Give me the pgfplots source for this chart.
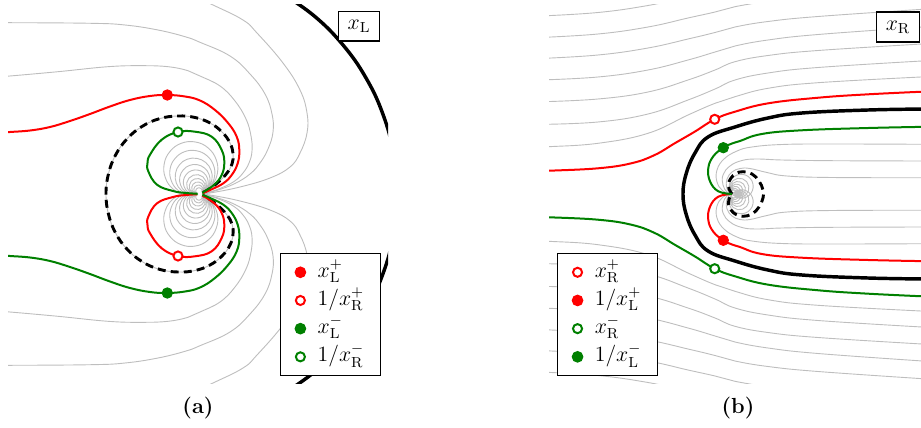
\documentclass[border=0pt]{standalone}
\usepackage{pgfplots}
\pgfplotsset{compat=1.18}
\usepackage{pgfplotstable}

\definecolor{contour}{RGB}{190,190,190}
\definecolor{pathred}{RGB}{255,0,0}
\definecolor{pathgreen}{RGB}{0,128,0}

\pgfplotsset{
  plane/.style={hide axis, x=0.55pt, y=0.55pt, enlargelimits=false,
    clip mode=individual, anchor=north west,
    legend cell align=left,
    legend style={draw=black, line width=0.6pt, fill=white, font=\large,
      row sep=0pt, column sep=4.5pt, inner xsep=7.5pt, inner ysep=2.5pt,
      nodes={inner sep=1.5pt, text height=9pt, text depth=3.5pt}}},
  contourline/.style={contour, line width=0.5pt, smooth, tension=0.7, forget plot},
  branch/.style={line width=1.1pt, smooth, tension=0.7, forget plot},
  boundary/.style={black, line width=1.9pt, smooth, tension=0.7, forget plot},
  unitcircle/.style={black, line width=1.6pt, dash pattern=on 4.4pt off 2.8pt, smooth, tension=0.7, forget plot},
  fullmark/.style={only marks, mark=*, mark size=2.9pt, color=#1},
  openmark/.style={only marks, mark=*, mark size=2.5pt, color=#1,
    mark options={fill=white, line width=1.1pt}},
}

% ================= left plane: x_L =================
% outer level curves, upper half (ym = mirror image)
\pgfplotstableread{
x y ym
-20 204 -204
13 189 -189
43 174 -174
57 161 -161
83 131 -131
100 104 -104
107 81 -81
107 61 -61
100 41 -41
90 27 -27
70 16 -16
40 7 -7
10 1 -1
0 0 0
}\levelAa
\pgfplotstableread{
x y ym
-198 171 -171
-190 171.3 -171.3
-109 170.7 -170.7
-75 169 -169
-42 164 -164
-15 157.3 -157.3
0 151.7 -151.7
30 138 -138
50 120 -120
65 100 -100
72 80 -80
73 62 -62
68 45 -45
60 31 -31
50 20 -20
35 10.5 -10.5
18 4 -4
6 1 -1
0 0 0
}\levelAb
\pgfplotstableread{
x y ym
-198 117.5 -117.5
-190 118 -118
-142 122.3 -122.3
-92 127.3 -127.3
-58.7 128.3 -128.3
-32 127.3 -127.3
-12 123.3 -123.3
0 118 -118
20 108 -108
35 93 -93
46 75 -75
51 58 -58
52 43 -43
49 31 -31
43 21 -21
34 12.5 -12.5
20 5.5 -5.5
6 1 -1
0 0 0
}\levelAc

% closed level curves, all through the branch point at the origin
\pgfplotstableread{
x y ym
0 0 0
11.4 8.0 -8.0
17.4 20.7 -20.7
16.1 34.6 -34.6
8.1 46.1 -46.1
-4.5 52.0 -52.0
-18.5 50.8 -50.8
-29.9 42.7 -42.7
-35.8 30.1 -30.1
-34.6 16.1 -16.1
-26.6 4.7 -4.7
-13.9 -1.2 1.2
0 0 0
9.5 6.7 -6.7
14.5 17.2 -17.2
13.5 28.8 -28.8
6.8 38.4 -38.4
-3.8 43.3 -43.3
-15.4 42.3 -42.3
-24.9 35.6 -35.6
-29.9 25.1 -25.1
-28.8 13.5 -13.5
-22.2 3.9 -3.9
-11.6 -1.0 1.0
0 0 0
7.8 5.5 -5.5
11.9 14.2 -14.2
11.1 23.7 -23.7
5.6 31.6 -31.6
-3.1 35.6 -35.6
-12.7 34.8 -34.8
-20.5 29.3 -29.3
-24.5 20.6 -20.6
-23.7 11.1 -11.1
-18.2 3.2 -3.2
-9.5 -0.8 0.8
0 0 0
6.4 4.5 -4.5
9.8 11.6 -11.6
9.1 19.5 -19.5
4.6 25.9 -25.9
-2.6 29.3 -29.3
-10.4 28.6 -28.6
-16.8 24.1 -24.1
-20.2 16.9 -16.9
-19.5 9.1 -9.1
-15.0 2.6 -2.6
-7.8 -0.7 0.7
0 0 0
5.3 3.7 -3.7
8.0 9.5 -9.5
7.4 15.9 -15.9
3.7 21.2 -21.2
-2.1 23.9 -23.9
-8.5 23.3 -23.3
-13.7 19.6 -19.6
-16.5 13.8 -13.8
-15.9 7.4 -7.4
-12.2 2.2 -2.2
-6.4 -0.6 0.6
0 0 0
4.2 3.0 -3.0
6.4 7.7 -7.7
6.0 12.8 -12.8
3.0 17.1 -17.1
-1.7 19.3 -19.3
-6.8 18.8 -18.8
-11.1 15.8 -15.8
-13.3 11.1 -11.1
-12.8 6.0 -6.0
-9.9 1.7 -1.7
-5.2 -0.5 0.5
0 0 0
3.4 2.4 -2.4
5.1 6.1 -6.1
4.8 10.3 -10.3
2.4 13.6 -13.6
-1.3 15.4 -15.4
-5.5 15.0 -15.0
-8.9 12.7 -12.7
-10.6 8.9 -8.9
-10.3 4.8 -4.8
-7.9 1.4 -1.4
-4.1 -0.4 0.4
0 0 0
2.6 1.8 -1.8
4.0 4.7 -4.7
3.7 7.9 -7.9
1.9 10.6 -10.6
-1.0 11.9 -11.9
-4.2 11.7 -11.7
-6.9 9.8 -9.8
-8.2 6.9 -6.9
-7.9 3.7 -3.7
-6.1 1.1 -1.1
-3.2 -0.3 0.3
0 0 0
2.0 1.4 -1.4
3.0 3.5 -3.5
2.8 5.9 -5.9
1.4 7.8 -7.8
-0.8 8.9 -8.9
-3.1 8.6 -8.6
-5.1 7.3 -7.3
-6.1 5.1 -5.1
-5.9 2.8 -2.8
-4.5 0.8 -0.8
-2.4 -0.2 0.2
0 0 0
1.4 1.0 -1.0
2.1 2.5 -2.5
1.9 4.1 -4.1
1.0 5.5 -5.5
-0.5 6.2 -6.2
-2.2 6.0 -6.0
-3.5 5.1 -5.1
-4.2 3.6 -3.6
-4.1 1.9 -1.9
-3.2 0.6 -0.6
-1.7 -0.1 0.1
0 0 0
}\loopsA

% x_L^+ (column y) and x_L^- (column ym)
\pgfplotstableread{
x y ym
-198 61.3 -61.3
-190 62 -62
-170 63.5 -63.5
-150 67 -67
-130 73 -73
-110 80 -80
-90 87.5 -87.5
-70 94 -94
-50 98 -98
-32.7 99 -99
-15 97.5 -97.5
0 93.5 -93.5
15 84 -84
28.3 70.7 -70.7
36.7 57.3 -57.3
39.3 44 -44
37.7 30.7 -30.7
31.7 19 -19
23.3 10.7 -10.7
11.7 4.7 -4.7
3 1 -1
0 0 0
-14 -1 1
-27 -3 3
-43 -9.3 9.3
-51.7 -22.7 22.7
-52.5 -31 31
-50 -39.3 39.3
-38.3 -54.3 54.3
-22 -62 62
-5 -62.3 62.3
11.7 -57.3 57.3
21.7 -44 44
24.3 -30.7 30.7
21.7 -19 19
15 -10 10
6.7 -4 4
0 0 0
}\branchA

% unit circle
\pgfplotstableread{
x y
3 1.5
10 5.5
19 12.5
27 21
32 30
33 40
30 51
22 62
10 71
-5 76.5
-22 78
-40.6 75.3
-58 67.5
-72.9 55.2
-84.4 39
-91.5 20.2
-94 0
-91.5 -20.2
-84.4 -39
-72.9 -55.2
-58 -67.5
-40.6 -75.3
-22 -78
-5 -76.5
10 -71
22 -62
30 -51
33 -40
32 -30
27 -21
19 -12.5
10 -5.5
3 -1.5
}\circleA

% boundary of the x_L region
\pgfplotstableread{
x y
80.7 201.5
113.9 178.3
142.5 149.6
165.8 116.4
183.0 79.6
193.5 40.4
197.0 0
193.5 -40.4
183.0 -79.6
165.8 -116.4
142.5 -149.6
113.9 -178.3
80.7 -201.5
}\edgeA

% ================= right plane: x_R =================
\pgfplotstableread{
x y ym
-192 47 -47
-183 47.3 -47.3
-134 50.7 -50.7
-84 60.7 -60.7
-44 79 -79
-17 90.7 -90.7
3 97.3 -97.3
36 105.7 -105.7
86 111.3 -111.3
195 117.3 -117.3
}\levelBa
\pgfplotstableread{
x y ym
-192 69.6 -69.6
-134 72 -72
-84 80 -80
-44 94 -94
-17 105 -105
3 114 -114
36 121 -121
86 126.5 -126.5
195 133.3 -133.3
}\levelBb
\pgfplotstableread{
x y ym
-192 92.2 -92.2
-134 95 -95
-84 102 -102
-44 114 -114
-17 124 -124
3 132.3 -132.3
36 138.5 -138.5
86 143.5 -143.5
195 150.3 -150.3
}\levelBc
\pgfplotstableread{
x y ym
-192 114 -114
-134 117 -117
-84 124 -124
-44 134 -134
-17 142 -142
3 148 -148
36 154 -154
86 159.5 -159.5
195 167.3 -167.3
}\levelBd
\pgfplotstableread{
x y ym
-192 135.5 -135.5
-134 139 -139
-84 146 -146
-44 155 -155
-17 161.5 -161.5
3 167 -167
36 172.5 -172.5
86 177.5 -177.5
195 185 -185
}\levelBe
\pgfplotstableread{
x y ym
-192 156.5 -156.5
-134 160 -160
-84 167 -167
-44 176 -176
-17 182 -182
3 187.3 -187.3
36 193 -193
}\levelBf
\pgfplotstableread{
x y ym
-192 178 -178
-134 181.5 -181.5
-84 188.5 -188.5
-44 197 -197
}\levelBg
% level curves inside the boundary, ending at the branch point
\pgfplotstableread{
x y ym
195 49.7 -49.7
100 50 -50
50 49.5 -49.5
20 47 -47
5 43 -43
-8 35 -35
-15 24 -24
-15 12 -12
-9 3 -3
0 0 0
}\innerBa
\pgfplotstableread{
x y ym
195 33 -33
100 33.3 -33.3
50 34 -34
25 35 -35
10 33.5 -33.5
-2 28 -28
-9 19 -19
-9 9 -9
-5 2 -2
0 0 0
}\innerBb
\pgfplotstableread{
x y ym
195 16.3 -16.3
100 16.5 -16.5
55 18 -18
35 21.5 -21.5
18 25.5 -25.5
8 25.5 -25.5
0 22 -22
-5 15 -15
-5.5 7 -7
-3 2 -2
0 0 0
}\innerBc

\pgfplotstableread{
x y ym
0 0 0
5.1 -3.6 3.6
11.3 -4.1 4.1
16.9 -1.5 1.5
20.5 3.6 -3.6
21 9.8 -9.8
18.4 15.4 -15.4
13.3 19 -19
7.1 19.5 -19.5
1.5 16.9 -16.9
-2.1 11.8 -11.8
-2.6 5.6 -5.6
0 0 0
4.1 -2.9 2.9
9 -3.3 3.3
13.5 -1.2 1.2
16.4 2.9 -2.9
16.8 7.8 -7.8
14.7 12.3 -12.3
10.6 15.2 -15.2
5.7 15.6 -15.6
1.2 13.5 -13.5
-1.7 9.5 -9.5
-2.1 4.5 -4.5
0 0 0
3.2 -2.3 2.3
7.1 -2.6 2.6
10.7 -0.9 0.9
13 2.3 -2.3
13.3 6.2 -6.2
11.6 9.8 -9.8
8.4 12 -12
4.5 12.4 -12.4
0.9 10.7 -10.7
-1.3 7.5 -7.5
-1.7 3.6 -3.6
0 0 0
2.5 -1.8 1.8
5.6 -2.1 2.1
8.5 -0.7 0.7
10.2 1.8 -1.8
10.5 4.9 -4.9
9.2 7.7 -7.7
6.6 9.5 -9.5
3.6 9.8 -9.8
0.7 8.5 -8.5
-1 5.9 -5.9
-1.3 2.8 -2.8
0 0 0
2 -1.4 1.4
4.3 -1.6 1.6
6.5 -0.6 0.6
7.8 1.4 -1.4
8.1 3.8 -3.8
7 5.9 -5.9
5.1 7.3 -7.3
2.7 7.5 -7.5
0.6 6.5 -6.5
-0.8 4.5 -4.5
-1 2.2 -2.2
0 0 0
1.4 -1 1
3.2 -1.2 1.2
4.8 -0.4 0.4
5.8 1 -1
6 2.8 -2.8
5.2 4.4 -4.4
3.8 5.4 -5.4
2 5.5 -5.5
0.4 4.8 -4.8
-0.6 3.3 -3.3
-0.7 1.6 -1.6
0 0 0
1 -0.7 0.7
2.3 -0.8 0.8
3.4 -0.3 0.3
4.1 0.7 -0.7
4.2 2 -2
3.7 3.1 -3.1
2.7 3.8 -3.8
1.4 3.9 -3.9
0.3 3.4 -3.4
-0.4 2.4 -2.4
-0.5 1.1 -1.1
0 0 0
}\loopsB

% x_R^+ (column y) and x_R^- (column ym): outer branch
\pgfplotstableread{
x y ym
-192 23 -23
-182 23.3 -23.3
-134 25.7 -25.7
-100.7 30.7 -30.7
-77.3 39 -39
-57.3 50.7 -50.7
-37.3 62.3 -62.3
-17.3 74.7 -74.7
3 82.3 -82.3
36.3 90.7 -90.7
86.3 96.3 -96.3
136.3 99.7 -99.7
195 102.5 -102.5
}\branchBa
% branch leaving the branch point
\pgfplotstableread{
x y ym
0 0 0
-13.7 -2.7 2.7
-22 -12.7 12.7
-23.7 -26 26
-18.7 -37.7 37.7
-8.7 -46.3 46.3
0 -50.5 50.5
8 -53 53
29.7 -60 60
69.7 -63.7 63.7
136.3 -66 66
195 -67.2 67.2
}\branchBb

\pgfplotstableread{
x y
0 0
-3 5
-3.7 10
-1 16
4 20.5
11 22.3
20 20
27 13
31 4
31 -4
27 -13
20 -20
11 -22.3
4 -20.5
-1 -16
-3.7 -10
-3 -5
0 0
}\circleB

\pgfplotstableread{
x y
195 85
136 84
70 81
36 76
3 67
-24 57
-37 41
-45.7 20.7
-49 0
-45.7 -20.7
-37 -41
-24 -57
3 -67
36 -76
70 -81
136 -84
195 -85
}\edgeB

\begin{document}
\begin{tikzpicture}
\path[use as bounding box] (0pt,0pt) rectangle (506.55pt,-235.4pt);

% (a) the x_L plane
\begin{axis}[plane, at={(4.4pt,-2.75pt)},
  xmin=-192, xmax=188, ymin=-189, ymax=189,
  legend style={at={(0.9816,0.0185)}, anchor=south east},
  legend image code/.code={\path (-3.2pt,0pt) (3.2pt,0pt); \draw[#1] plot coordinates {(0pt,0pt)};}]
  \addplot[contourline] table[x=x, y=y]  {\levelAa};
  \addplot[contourline] table[x=x, y=ym] {\levelAa};
  \addplot[contourline] table[x=x, y=y]  {\levelAb};
  \addplot[contourline] table[x=x, y=ym] {\levelAb};
  \addplot[contourline] table[x=x, y=y]  {\levelAc};
  \addplot[contourline] table[x=x, y=ym] {\levelAc};
  \addplot[contourline] table[x=x, y=y]  {\loopsA};
  \addplot[contourline] table[x=x, y=ym] {\loopsA};
  \addplot[contourline] table[x=x, y=y]  {\circleA};
  \addplot[boundary] table[x=x, y=y] {\edgeA};
  \addplot[unitcircle] table[x=x, y=y] {\circleA};
  \addplot[branch, pathred]   table[x=x, y=y]  {\branchA};
  \addplot[branch, pathgreen] table[x=x, y=ym] {\branchA};
  \addplot[only marks, mark=*, mark size=1.1pt, white, forget plot] coordinates {(0,0)};
  \addplot[fullmark=pathred]   coordinates {(-32.7,99)};
  \addlegendentry{$x_{\mathrm{L}}^{+}$}
  \addplot[openmark=pathred]   coordinates {(-22,-62)};
  \addlegendentry{$1/x_{\mathrm{R}}^{+}$}
  \addplot[fullmark=pathgreen] coordinates {(-32.7,-99)};
  \addlegendentry{$x_{\mathrm{L}}^{-}$}
  \addplot[openmark=pathgreen] coordinates {(-22,62)};
  \addlegendentry{$1/x_{\mathrm{R}}^{-}$}
  \node[draw=black, line width=0.6pt, fill=white, minimum width=23pt, minimum height=16pt, font=\large]
    at (axis cs:159,167.5) {$x_{\mathrm{L}}$};
\end{axis}

% (b) the x_R plane
\begin{axis}[plane, at={(301.95pt,-2.75pt)},
  xmin=-183, xmax=189, ymin=-189, ymax=189,
  legend style={at={(0.0215,0.0185)}, anchor=south west},
  legend image code/.code={\path (-3.2pt,0pt) (3.2pt,0pt); \draw[#1] plot coordinates {(0pt,0pt)};}]
  \addplot[contourline] table[x=x, y=y]  {\levelBa};
  \addplot[contourline] table[x=x, y=ym] {\levelBa};
  \addplot[contourline] table[x=x, y=y]  {\levelBb};
  \addplot[contourline] table[x=x, y=ym] {\levelBb};
  \addplot[contourline] table[x=x, y=y]  {\levelBc};
  \addplot[contourline] table[x=x, y=ym] {\levelBc};
  \addplot[contourline] table[x=x, y=y]  {\levelBd};
  \addplot[contourline] table[x=x, y=ym] {\levelBd};
  \addplot[contourline] table[x=x, y=y]  {\levelBe};
  \addplot[contourline] table[x=x, y=ym] {\levelBe};
  \addplot[contourline] table[x=x, y=y]  {\levelBf};
  \addplot[contourline] table[x=x, y=ym] {\levelBf};
  \addplot[contourline] table[x=x, y=y]  {\levelBg};
  \addplot[contourline] table[x=x, y=ym] {\levelBg};
  \addplot[contourline] table[x=x, y=y]  {\innerBa};
  \addplot[contourline] table[x=x, y=ym] {\innerBa};
  \addplot[contourline] table[x=x, y=y]  {\innerBb};
  \addplot[contourline] table[x=x, y=ym] {\innerBb};
  \addplot[contourline] table[x=x, y=y]  {\innerBc};
  \addplot[contourline] table[x=x, y=ym] {\innerBc};
  \addplot[contourline] table[x=x, y=y]  {\loopsB};
  \addplot[contourline] table[x=x, y=ym] {\loopsB};
  \addplot[boundary] table[x=x, y=y] {\edgeB};
  \addplot[unitcircle] table[x=x, y=y] {\circleB};
  \addplot[branch, pathred]   table[x=x, y=y]  {\branchBa};
  \addplot[branch, pathred]   table[x=x, y=y]  {\branchBb};
  \addplot[branch, pathgreen] table[x=x, y=ym] {\branchBa};
  \addplot[branch, pathgreen] table[x=x, y=ym] {\branchBb};
  \addplot[openmark=pathred]   coordinates {(-17.3,74.7)};
  \addlegendentry{$x_{\mathrm{R}}^{+}$}
  \addplot[fullmark=pathred]   coordinates {(-8.7,-46.3)};
  \addlegendentry{$1/x_{\mathrm{L}}^{+}$}
  \addplot[openmark=pathgreen] coordinates {(-17.3,-74.7)};
  \addlegendentry{$x_{\mathrm{R}}^{-}$}
  \addplot[fullmark=pathgreen] coordinates {(-8.7,46.3)};
  \addlegendentry{$1/x_{\mathrm{L}}^{-}$}
  \node[draw=black, line width=0.6pt, fill=white, minimum width=24pt, minimum height=16.5pt, font=\large]
    at (axis cs:166,167) {$x_{\mathrm{R}}$};
\end{axis}

\node[font=\large\bfseries] at (108.9pt,-224.4pt) {(a)};
\node[font=\large\bfseries] at (405.9pt,-224.4pt) {(b)};
\end{tikzpicture}
\end{document}
